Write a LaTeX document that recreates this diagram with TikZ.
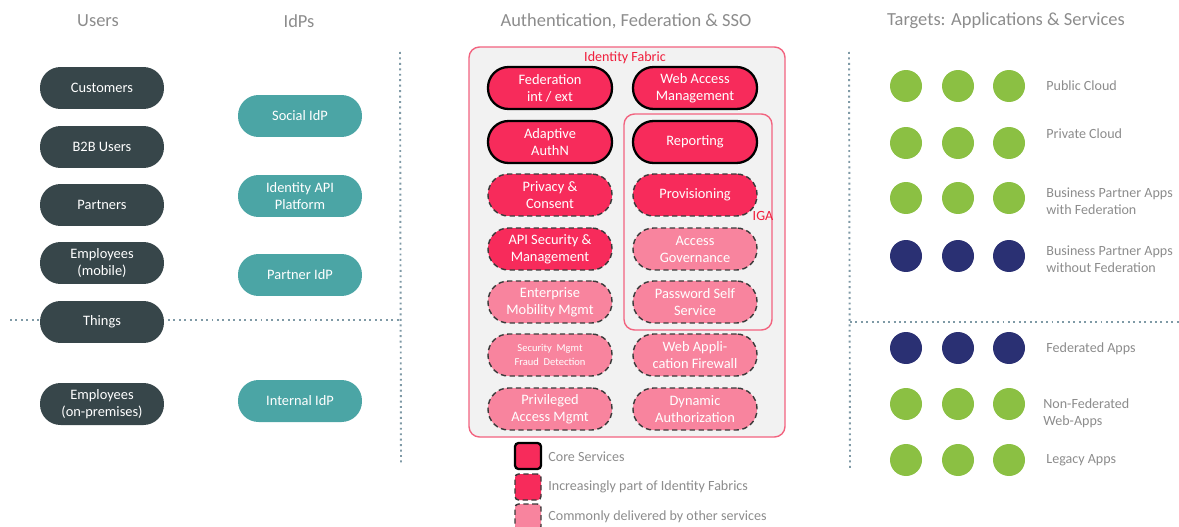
\documentclass[tikz,border=0pt]{standalone}
\usepackage{fontspec}
\setmainfont{Carlito}
\usetikzlibrary{positioning}
\definecolor{userc}{HTML}{37464A}
\definecolor{idpc}{HTML}{4BA5A5}
\definecolor{corec}{HTML}{F72B5B}
\definecolor{otherc}{HTML}{F8849E}
\definecolor{dashc}{HTML}{3A3A3A}
\definecolor{headc}{HTML}{8C8C8C}
\definecolor{sepc}{HTML}{7F9AA6}
\definecolor{fabricc}{HTML}{F2637F}
\definecolor{fabricbg}{HTML}{F2F2F2}
\definecolor{labelc}{HTML}{F01E3C}
\definecolor{appg}{HTML}{8BC043}
\definecolor{appn}{HTML}{2A3073}

\begin{document}
\begin{tikzpicture}[x=0.02cm,y=-0.02cm]
\tikzstyle{pill}=[rounded corners=0.41cm,minimum width=2.48cm,minimum height=0.84cm,align=center,text=white,font=\fontsize{8.2}{9.6}\selectfont,inner sep=1pt];
\tikzstyle{user}=[pill,fill=userc];
\tikzstyle{idp}=[pill,fill=idpc];
\tikzstyle{core}=[pill,fill=corec,draw=black,line width=1.3pt];
\tikzstyle{rising}=[pill,fill=corec,draw=dashc,line width=0.8pt,dash pattern=on 3pt off 2pt];
\tikzstyle{other}=[pill,fill=otherc,draw=dashc,line width=0.8pt,dash pattern=on 3pt off 2pt];
\tikzstyle{head}=[text=headc,font=\fontsize{10.5}{12}\selectfont];
\tikzstyle{lbl}=[text=headc,font=\fontsize{8}{9.4}\selectfont,anchor=west,align=left,inner sep=0pt];
\tikzstyle{sep}=[sepc,dotted,line width=1.1pt];
\tikzstyle{dot}=[circle,minimum size=0.64cm,inner sep=0pt];
\tikzstyle{key}=[rounded corners=2pt,minimum size=0.52cm,inner sep=0pt];
\useasboundingbox (0,0) rectangle (1179,527);
% headings
    \node[head] (husers) at (98,21) {Users};
    \node[head] (hidps) at (299,21) {IdPs};
    \node[head] (hauth) at (626,21) {Authentication, Federation \& SSO};
    \node[head] (htarget) at (1006,21) {Targets: Applications \& Services};
% separators
    \draw[sep] (400,52) -- (401,465);
    \draw[sep] (10,320) -- (400,320);
    \draw[sep] (849,52) -- (850,468);
    \draw[sep] (850,322) -- (1179,322);
% users
    \node[user] (cust) at (102,88) {Customers};
    \node[user] (b2b) at (102,147) {B2B Users};
    \node[user] (partners) at (102,205) {Partners};
    \node[user] (empmob) at (102,263) {Employees\\(mobile)};
    \node[user] (things) at (102,322) {Things};
    \node[user] (empprem) at (102,404) {Employees\\(on-premises)};
% idps
    \node[idp] (social) at (300,116) {Social IdP};
    \node[idp] (idapi) at (300,196) {Identity API\\Platform};
    \node[idp] (partneridp) at (300,275) {Partner IdP};
    \node[idp] (internal) at (300,401) {Internal IdP};
% identity fabric
    \draw[fabricc,fill=fabricbg,rounded corners=6pt,line width=0.8pt] (469,47) rectangle (785,437);
    \node[text=labelc,font=\fontsize{8}{9.6}\selectfont,inner sep=0pt] (fabric) at (625,58) {Identity Fabric};
    \draw[fabricc,rounded corners=6pt,line width=0.8pt] (624,114) rectangle (772,330);
    \node[text=labelc,font=\fontsize{8}{9.6}\selectfont,inner sep=0pt] (iga) at (763,216) {IGA};
%   left column
    \node[core] (fed) at (550,88) {Federation\\int / ext};
    \node[core] (adapt) at (550,142) {Adaptive\\AuthN};
    \node[rising] (privacy) at (550,195) {Privacy \&\\Consent};
    \node[rising] (apisec) at (550,249) {API Security \&\\Management};
    \node[other] (emm) at (550,302) {Enterprise\\Mobility Mgmt};
    \node[other,font=\fontsize{6}{8}\selectfont] (secmgmt) at (550,355) {Security~ Mgmt\\Fraud~ Detection};
    \node[other] (pam) at (550,409) {Privileged\\Access Mgmt};
%   right column
    \node[core] (wam) at (695,88) {Web Access\\Management};
    \node[core] (report) at (695,142) {Reporting};
    \node[rising] (prov) at (695,195) {Provisioning};
    \node[other] (accgov) at (695,249) {Access\\Governance};
    \node[other] (pwd) at (695,302) {Password Self\\Service};
    \node[other] (waf) at (695,355) {Web Appli-\\cation Firewall};
    \node[other] (dynauth) at (695,409) {Dynamic\\Authorization};
% legend
    \node[key,fill=corec,draw=black,line width=1.3pt] (kcore) at (528,456) {};
    \node[key,fill=corec,draw=dashc,line width=0.8pt,dash pattern=on 3pt off 2pt] (krising) at (528,487) {};
    \node[key,fill=otherc,draw=dashc,line width=0.8pt,dash pattern=on 3pt off 2pt] (kother) at (528,517) {};
    \node[lbl] (lcore) at (548,457) {Core Services};
    \node[lbl] (lrising) at (548,487) {Increasingly part of Identity Fabrics};
    \node[lbl] (lother) at (548,517) {Commonly delivered by other services};
% targets
    \foreach \y/\c [count=\i] in {86/appg,143/appg,198/appg,256/appn,348/appn,404/appg,460/appg}
        \foreach \x [count=\j] in {906,958,1009}
            \node[dot,fill=\c] (t\i\j) at (\x,\y) {};
    \node[lbl] (pub) at (1046,86) {Public Cloud};
    \node[lbl] (priv) at (1046,134) {Private Cloud};
    \node[lbl] (bpfed) at (1046,201) {Business Partner Apps\\with Federation};
    \node[lbl] (bpnofed) at (1046,259) {Business Partner Apps\\without Federation};
    \node[lbl] (fedapps) at (1046,349) {Federated Apps};
    \node[lbl] (nonfed) at (1043,413) {Non-Federated\\Web-Apps};
    \node[lbl] (legacy) at (1046,460) {Legacy Apps};
\end{tikzpicture}
\end{document}
